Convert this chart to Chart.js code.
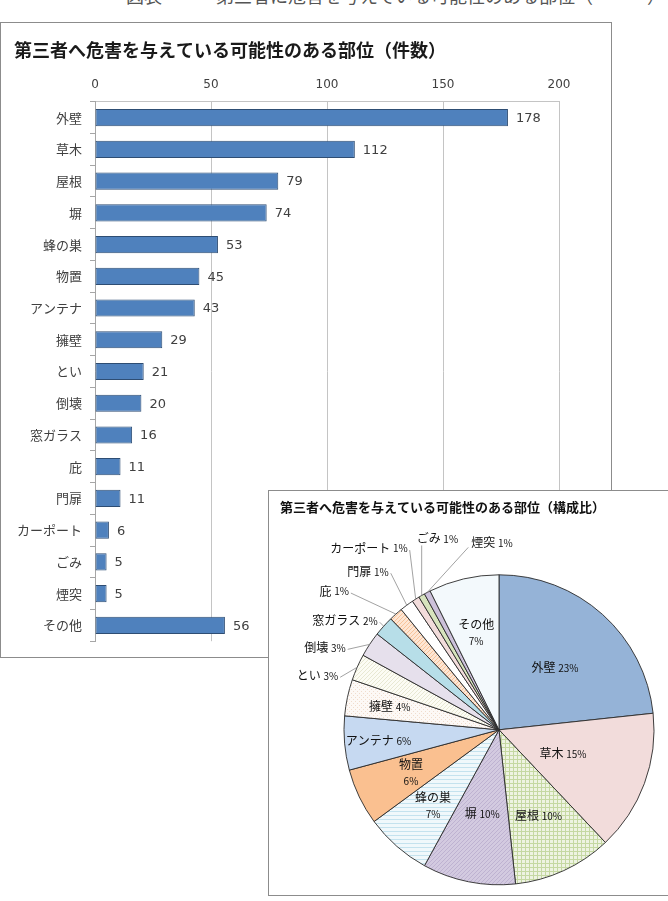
<!DOCTYPE html>
<html lang="ja">
<head>
<meta charset="utf-8">
<title>第三者へ危害を与えている可能性のある部位</title>
<script src="https://cdn.jsdelivr.net/npm/chart.js@4.4.1/dist/chart.umd.min.js"></script>
<style>
  html, body { margin: 0; padding: 0; background: #fff; overflow: hidden; width: 668px; height: 901px; }
  .caption { position: absolute; left: 126px; top: -18px; font: 18px "Noto Sans CJK JP", sans-serif; color: #555; white-space: nowrap; }
  .frame { position: absolute; border: 1px solid #8c8c8c; background: #fff; }
  #barBox { left: 0; top: 22px; width: 610px; height: 634px; }
  #pieBox { left: 268px; top: 490px; width: 460px; height: 404px; }
  canvas { display: block; }
</style>
</head>
<body>
<div class="caption">図表　　　第三者に危害を与えている可能性のある部位（　　　）</div>
<div class="frame" id="barBox"><canvas id="barChart" width="610" height="634"></canvas></div>
<div class="frame" id="pieBox"><canvas id="pieChart" width="460" height="404"></canvas></div>
<script>
/* --- data --- */
const categories = ['外壁', '草木', '屋根', '塀', '蜂の巣', '物置', 'アンテナ', '擁壁', 'とい', '倒壊', '窓ガラス', '庇', '門扉', 'カーポート', 'ごみ', '煙突', 'その他'];
const counts = [178, 112, 79, 74, 53, 45, 43, 29, 21, 20, 16, 11, 11, 6, 5, 5, 56];
const xTicks = [0, 50, 100, 150, 200];

const JP = '"Noto Sans CJK JP", sans-serif';
const NUM = '"DejaVu Sans", "Noto Sans CJK JP", sans-serif';

/* --- bar chart (件数) --- */
const valueLabels = {
  id: 'valueLabels',
  afterDatasetsDraw(chart) {
    const { ctx } = chart;
    ctx.save();
    ctx.font = '13px ' + NUM;
    ctx.fillStyle = '#404040';
    ctx.textBaseline = 'middle';
    chart.getDatasetMeta(0).data.forEach((bar, i) => {
      ctx.fillText(String(counts[i]), bar.x + 8, bar.y + 1);
    });
    ctx.restore();
  }
};

new Chart(document.getElementById('barChart'), {
  type: 'bar',
  data: {
    labels: categories,
    datasets: [{
      data: counts,
      backgroundColor: '#4F81BD',
      borderColor: '#2E4D73',
      borderWidth: 1,
      borderSkipped: false,
      categoryPercentage: 1,
      barPercentage: 0.54
    }]
  },
  options: {
    indexAxis: 'y',
    responsive: false,
    animation: false,
    layout: { padding: { left: 13, right: 52, top: 0, bottom: 15 } },
    plugins: {
      legend: { display: false },
      tooltip: { enabled: false },
      title: {
        display: true,
        text: '第三者へ危害を与えている可能性のある部位（件数）',
        align: 'start',
        color: '#1a1a1a',
        font: { family: JP, size: 18, weight: 'bold' },
        padding: { top: 16, bottom: 6 }
      }
    },
    scales: {
      x: {
        position: 'top',
        min: 0,
        max: 200,
        afterBuildTicks: s => { s.ticks = xTicks.map(v => ({ value: v })); },
        afterFit: s => { s.height = 35.2; },
        ticks: { color: '#404040', font: { family: NUM, size: 12 }, padding: 10 },
        grid: { color: '#c4c4c4', drawTicks: false },
        border: { color: '#c4c4c4' }
      },
      y: {
        afterFit: s => { s.width = 81; },
        ticks: { color: '#404040', font: { family: JP, size: 13 }, padding: 8 },
        grid: { drawOnChartArea: false, tickLength: 5, color: '#a6a6a6', offset: true },
        border: { color: '#a6a6a6' }
      }
    }
  },
  plugins: [valueLabels]
});

/* --- pie chart (構成比) --- */
const pieCanvas = document.getElementById('pieChart');
const pctx = pieCanvas.getContext('2d');

function hatch(bg, fg, kind) {
  const c = document.createElement('canvas');
  c.width = c.height = 4;
  const g = c.getContext('2d');
  g.fillStyle = bg; g.fillRect(0, 0, 4, 4);
  g.fillStyle = fg;
  if (kind === 'grid') { g.fillRect(0, 0, 4, 1); g.fillRect(0, 0, 1, 4); }
  else if (kind === 'hline') { g.fillRect(0, 0, 4, 1); }
  else if (kind === 'diag') { for (let i = 0; i < 4; i++) g.fillRect(i, 3 - i, 1, 1); }
  else if (kind === 'cross') { for (let i = 0; i < 4; i++) { g.fillRect(i, i, 1, 1); g.fillRect(i, 3 - i, 1, 1); } }
  else if (kind === 'dots') { g.fillRect(0, 0, 1, 1); g.fillRect(2, 2, 1, 1); }
  return pctx.createPattern(c, 'repeat');
}

const sliceFills = [
  '#95B3D7',                                // 外壁
  '#F2DCDB',                                // 草木
  hatch('#EEF3E2', '#C5D8A2', 'grid'),      // 屋根
  hatch('#D3CAE0', '#BEB2D1', 'diag'),      // 塀
  hatch('#F0F8FB', '#C4E2EE', 'hline'),     // 蜂の巣
  '#FAC090',                                // 物置
  '#C6D9F1',                                // アンテナ
  hatch('#FDF9F6', '#F0DCCD', 'dots'),      // 擁壁
  hatch('#FCFCF4', '#E8E8D2', 'diag'),      // とい
  '#E6E0EC',                                // 倒壊
  '#B7DEE8',                                // 窓ガラス
  hatch('#FDE6D4', '#F8C39A', 'diag'),      // 庇
  '#FFFFFF',                                // 門扉
  '#F2DCDB',                                // カーポート
  '#D7E4BD',                                // ごみ
  '#CCC1DA',                                // 煙突
  '#F3F9FC'                                 // その他
];

// label placement: inside (frac of radius) or outside (offset from slice edge)
const pieLabelLayout = [
  { frac: 0.54 },
  { frac: 0.44 },
  { frac: 0.61 },
  { frac: 0.55 },
  { frac: 0.645, twoLine: true },
  { frac: 0.63, twoLine: true },
  { frac: 0.78 },
  { frac: 0.72 },
  { dx: -17, dy: 10, side: 'left' },
  { dx: -22, dy: 5, side: 'left' },
  { dx: -4, dy: -4, side: 'left' },
  { dx: -45, dy: -21, side: 'left' },
  { dx: -16, dy: -32, side: 'left' },
  { dx: -6, dy: -49, side: 'left' },
  { dx: 0, dy: -50, side: 'up' },
  { dx: 41, dy: -45, side: 'right' },
  { frac: 0.645, twoLine: true }
];

const total = counts.reduce((a, b) => a + b, 0);
const NAME_FONT = '12px ' + JP;
const PCT_FONT = '10px ' + JP;

function drawPair(ctx, name, pct, x, y, align) {
  ctx.font = NAME_FONT;
  const wn = ctx.measureText(name + ' ').width;
  ctx.font = PCT_FONT;
  const wp = ctx.measureText(pct).width;
  const w = wn + wp;
  let left = x;
  if (align === 'center') left = x - w / 2;
  else if (align === 'right') left = x - w;
  ctx.textAlign = 'left';
  ctx.font = NAME_FONT;
  ctx.fillText(name, left, y);
  ctx.font = PCT_FONT;
  ctx.fillText(pct, left + wn, y + 0.5);
}

const pieLabels = {
  id: 'pieLabels',
  afterDatasetsDraw(chart) {
    const { ctx } = chart;
    ctx.save();
    ctx.fillStyle = '#111';
    ctx.textBaseline = 'middle';
    chart.getDatasetMeta(0).data.forEach((arc, i) => {
      const cfg = pieLabelLayout[i];
      const mid = (arc.startAngle + arc.endAngle) / 2;
      const name = categories[i];
      const pct = Math.round(counts[i] / total * 100) + '%';
      if (cfg.frac !== undefined) {
        const r = arc.outerRadius * cfg.frac;
        const x = arc.x + Math.cos(mid) * r;
        const y = arc.y + Math.sin(mid) * r;
        if (cfg.twoLine) {
          ctx.textAlign = 'center';
          ctx.font = NAME_FONT;
          ctx.fillText(name, x, y - 8);
          ctx.font = PCT_FONT;
          ctx.fillText(pct, x, y + 9);
        } else {
          drawPair(ctx, name, pct, x, y, 'center');
        }
      } else {
        const ex = arc.x + Math.cos(mid) * arc.outerRadius;
        const ey = arc.y + Math.sin(mid) * arc.outerRadius;
        const ax = ex + cfg.dx;
        const ay = ey + cfg.dy;
        ctx.strokeStyle = '#8a8a8a';
        ctx.lineWidth = 0.8;
        ctx.beginPath();
        ctx.moveTo(ex, ey);
        ctx.lineTo(ax, ay);
        ctx.stroke();
        if (cfg.side === 'left') drawPair(ctx, name, pct, ax - 2, ay - 2, 'right');
        else if (cfg.side === 'up') drawPair(ctx, name, pct, ax - 5, ay - 7, 'left');
        else drawPair(ctx, name, pct, ax + 3, ay - 5, 'left');
      }
    });
    ctx.restore();
  }
};

new Chart(pieCanvas, {
  type: 'pie',
  data: {
    labels: categories,
    datasets: [{
      data: counts,
      backgroundColor: sliceFills,
      borderColor: '#2a2a2a',
      borderWidth: 0.9
    }]
  },
  options: {
    responsive: false,
    animation: false,
    radius: 155,
    layout: { padding: { left: 11, right: 11, top: 0, bottom: 10 } },
    plugins: {
      legend: { display: false },
      tooltip: { enabled: false },
      title: {
        display: true,
        text: '第三者へ危害を与えている可能性のある部位（構成比）',
        align: 'start',
        color: '#111',
        font: { family: JP, size: 13, weight: 'bold' },
        padding: { top: 8, bottom: 60 }
      }
    }
  },
  plugins: [pieLabels]
});
</script>
</body>
</html>
